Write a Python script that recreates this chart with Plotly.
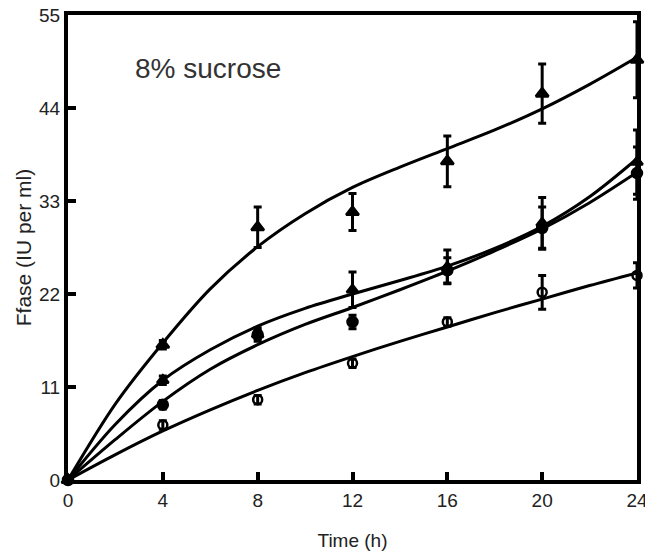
import plotly.graph_objects as go

x_times = [0, 4, 8, 12, 16, 20, 24]
x_ticks = [0, 4, 8, 12, 16, 20, 24]
y_ticks = [0, 11, 22, 33, 44, 55]

# measured points
s1_y = [0, 16.0, 29.9, 31.7, 37.7, 45.7, 49.7]
s1_err = [0, 0.5, 2.4, 2.2, 3.0, 3.5, 4.5]
s2_y = [0, 11.8, 17.2, 22.5, 25.2, 30.4, 37.6]
s2_err = [0, 0.5, 0.8, 2.1, 2.0, 3.0, 3.8]
s3_y = [0, 8.9, 17.2, 18.7, 24.8, 29.8, 36.3]
s3_err = [0, 0.5, 0.5, 0.8, 1.5, 2.5, 3.1]
s4_y = [0, 6.5, 9.5, 13.8, 18.7, 22.2, 24.2]
s4_err = [0, 0.5, 0.5, 0.5, 0.5, 2.0, 1.5]

# fitted curves (every 2 h)
c_x = [0, 2, 4, 6, 8, 10, 12, 14, 16, 18, 20, 22, 24]
c1_y = [0, 9.0, 16.2, 22.6, 27.6, 31.5, 34.6, 37.0, 39.2, 41.4, 43.9, 46.8, 50.0]
c2_y = [0, 6.6, 11.8, 15.4, 18.2, 20.3, 22.0, 23.6, 25.3, 27.4, 30.0, 33.5, 38.0]
c3_y = [0, 4.8, 9.3, 13.1, 16.0, 18.4, 20.4, 22.5, 24.7, 27.1, 29.7, 32.8, 36.4]
c4_y = [0, 3.0, 5.8, 8.3, 10.6, 12.7, 14.6, 16.4, 18.1, 19.8, 21.4, 23.0, 24.5]

fig = go.Figure()

for cy in [c1_y, c2_y, c3_y, c4_y]:
    fig.add_trace(go.Scatter(x=c_x, y=cy, mode="lines",
                             line=dict(color="black", width=3, shape="spline", smoothing=0.9),
                             showlegend=False, hoverinfo="skip", cliponaxis=False))

series = [
    (s1_y, s1_err, "triangle-up", 11),
    (s2_y, s2_err, "triangle-up", 10),
    (s3_y, s3_err, "circle", 10),
    (s4_y, s4_err, "circle-open", 9),
]
for sy, se, sym, sz in series:
    fig.add_trace(go.Scatter(
        x=x_times, y=sy, mode="markers",
        marker=dict(symbol=sym, size=sz, color="black",
                    line=dict(color="black", width=2.5)),
        error_y=dict(type="data", array=se, visible=True, color="black",
                     thickness=3, width=4),
        showlegend=False, cliponaxis=False))

fig.add_annotation(text="8% sucrose", x=0.115, y=0.886, xref="paper", yref="paper",
                   xanchor="left", yanchor="middle", showarrow=False,
                   font=dict(size=28, color="#333", family="Liberation Sans, Arial"))

axis_common = dict(showgrid=False, zeroline=False, showline=True, linecolor="black",
                   linewidth=4, mirror=True, ticks="inside", ticklen=8, tickwidth=4,
                   tickcolor="black", tickfont=dict(size=19, color="#222"),
                   automargin=False, ticklabeloverflow="allow")

fig.update_xaxes(range=[0, 24], tickvals=x_ticks, ticktext=[str(v) for v in x_ticks],
                 title=dict(text="Time (h)", font=dict(size=19, color="#222"), standoff=26),
                 **axis_common)
fig.update_yaxes(range=[0, 55], tickvals=y_ticks, ticktext=[str(v) for v in y_ticks],
                 title=dict(text="Ffase (IU per ml)", font=dict(size=21, color="#222"), standoff=3),
                 **axis_common)

fig.update_layout(width=645, height=551, margin=dict(l=68, r=8, t=15, b=71),
                  plot_bgcolor="white", paper_bgcolor="white",
                  font=dict(family="Liberation Sans, Arial", color="#222"))

fig.write_html("out.html", config={"displayModeBar": False},
               post_script="document.body.style.margin='0';document.body.style.overflow='hidden';")
